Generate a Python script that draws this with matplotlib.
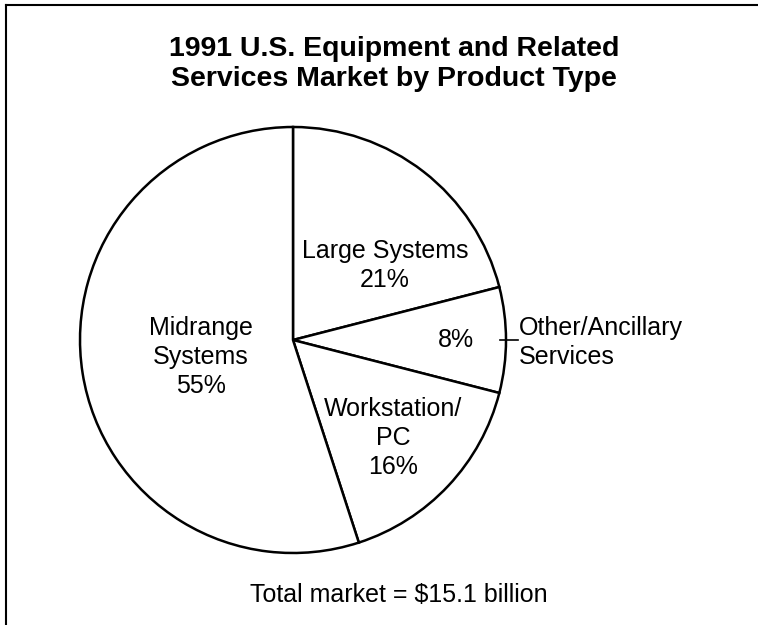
import matplotlib.pyplot as plt
from matplotlib.lines import Line2D

plt.rcParams['font.family'] = ['Liberation Sans', 'DejaVu Sans']

# market share by product type, clockwise from 12 o'clock
products = ["Large Systems", "Other/Ancillary Services", "Workstation/PC", "Midrange Systems"]
shares = [21, 8, 16, 55]
total_billion = 15.1

fig = plt.figure(figsize=(7.58, 6.25), dpi=100)
fig.patch.set_facecolor("white")

# frame along the top and left edge
fig.add_artist(Line2D([6/758, 6/758], [0, 1 - 5/625], color="black", lw=1.5))
fig.add_artist(Line2D([6/758, 1], [1 - 5/625, 1 - 5/625], color="black", lw=1.5))

ax = fig.add_axes([80/758, 72/625, 426/758, 426/625])
ax.pie(shares, startangle=90, counterclock=False, radius=1,
       colors=["white"] * len(shares),
       wedgeprops=dict(edgecolor="black", linewidth=1.8))
ax.set_xlim(-1, 1)
ax.set_ylim(-1, 1)
ax.set_aspect("equal")
ax.axis("off")

fs = 18
ls = 1.27
ax.text(0.432, 0.35, "Large Systems\n%d%%" % shares[0], ha="center", va="center", fontsize=fs, linespacing=ls)
ax.text(0.765, 0.0, "%d%%" % shares[1], ha="center", va="center", fontsize=fs)
ax.plot([0.972, 1.056], [0, 0], color="black", lw=1.2, clip_on=False)
ax.text(1.061, -0.012, "Other/Ancillary\nServices", ha="left", va="center", fontsize=fs, linespacing=ls)
ax.text(0.469, -0.46, "Workstation/\nPC\n%d%%" % shares[2], ha="center", va="center", fontsize=fs, linespacing=ls)
ax.text(-0.432, -0.08, "Midrange\nSystems\n%d%%" % shares[3], ha="center", va="center", fontsize=fs, linespacing=ls)

fig.text(394/758, 1 - 64/625, "1991 U.S. Equipment and Related\nServices Market by Product Type",
         ha="center", va="center", fontsize=20.5, fontweight="bold", linespacing=1.2)
fig.text(399/758, 1 - 595/625, "Total market = $%.1f billion" % total_billion,
         ha="center", va="center", fontsize=18)

fig.savefig("out.png", dpi=100, facecolor="white")
